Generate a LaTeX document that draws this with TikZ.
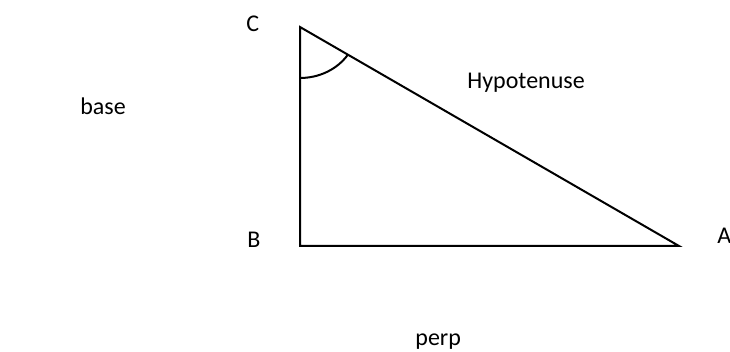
\documentclass[tikz,border=0pt]{standalone}
\usepackage{fontspec}
\setmainfont{Carlito}
\usepackage{tikz}
\usetikzlibrary{positioning, calc}
\definecolor{mydark}{RGB}{0,0,0}
\tikzset{
  lbl/.style={anchor=base west, inner sep=0pt, font=\fontsize{12}{14}\selectfont, color=mydark},
  side/.style={line width=1pt, color=mydark},
  anglearc/.style={line width=1pt, color=mydark}
}

\begin{document}
\begin{tikzpicture}[x=0.5pt, y=-0.5pt]
  \useasboundingbox (0,0) rectangle (730,352);

  % --- Triangle corners ---
  \coordinate (C) at (300,27);
  \coordinate (B) at (300,246);
  \coordinate (A) at (679,246);

  \draw[side] (C) -- (B) -- (A) -- cycle;

  % Angle at C
  \draw[anglearc] ($(C)+(0,51)$) arc[start angle=90, end angle=33, x radius=57, y radius=51];

  % --- Labels ---
  \node[lbl] (labC) at (246,32) {C};
  \node[lbl] (labB) at (247,248) {B};
  \node[lbl] (labA) at (717,244) {A};
  \node[lbl] (hyp) at (467,89) {Hypotenuse};
  \node[lbl] (base) at (80,115) {base};
  \node[lbl] (perp) at (415,346) {perp};
\end{tikzpicture}
\end{document}
